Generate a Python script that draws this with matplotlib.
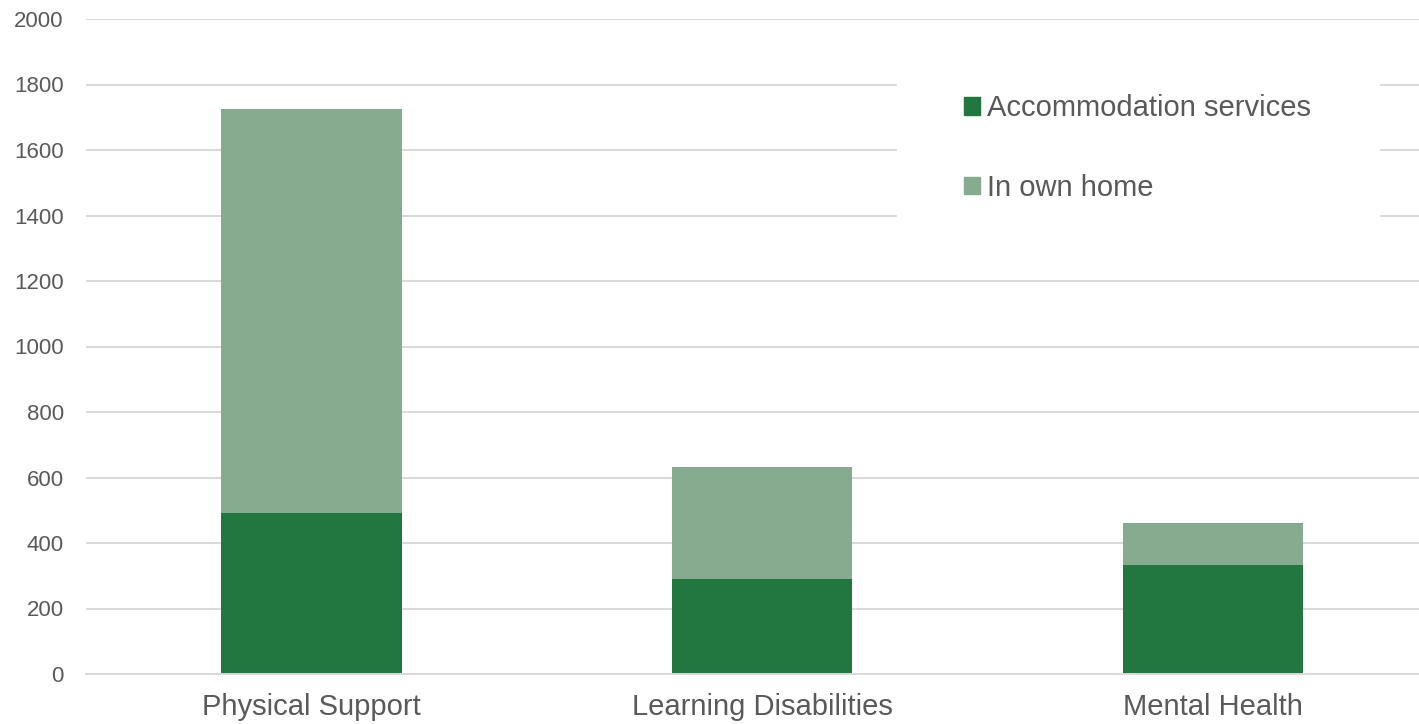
import numpy as np
import matplotlib.pyplot as plt
from matplotlib.patches import Patch

plt.rcParams['font.family'] = ['Liberation Sans', 'DejaVu Sans']

categories = ['Physical Support', 'Learning Disabilities', 'Mental Health']
accommodation = [492, 290, 333]
own_home = [1233, 342, 128]

dark = '#227640'
light = '#87ab8e'
grey = '#595959'

fig = plt.figure(figsize=(14.19, 7.24), dpi=100)
ax = fig.add_axes([86 / 1419, 50 / 724, 1 - 86 / 1419, (674 - 19) / 724])

x = np.arange(len(categories))
ax.bar(x, accommodation, width=0.4, color=dark, zorder=2)
ax.bar(x, own_home, width=0.4, bottom=accommodation, color=light, zorder=2)

ax.set_ylim(0, 2000)
ax.set_xlim(-0.5, 2.457)
ax.set_yticks(range(0, 2001, 200))
ax.set_xticks(x)
ax.set_xticklabels(categories, fontsize=21, color=grey)
ax.tick_params(axis='y', labelsize=16, labelcolor=grey, length=0, pad=16)
ax.tick_params(axis='x', length=0, pad=14)
ax.grid(axis='y', color='#d9d9d9', linewidth=1.4, zorder=0)
for s in ['top', 'right', 'left']:
    ax.spines[s].set_visible(False)
ax.spines['bottom'].set_color('#d9d9d9')
ax.spines['bottom'].set_linewidth(1.4)

# legend sits on a white box that hides the gridlines behind it
handles = [Patch(color=dark), Patch(color=light)]
leg = ax.legend(handles, ['Accommodation services', 'In own home'],
                loc='upper left', bbox_to_anchor=(897 / 1419, 1 - 27 / 724),
                bbox_transform=fig.transFigure, borderaxespad=0,
                frameon=True, fontsize=21,
                handlelength=0.55, handleheight=0.55, handletextpad=0.25,
                labelspacing=1.77, borderpad=2.3, fancybox=False,
                edgecolor='white', framealpha=1)
for t in leg.get_texts():
    t.set_color(grey)

fig.savefig('out.png', dpi=100)
